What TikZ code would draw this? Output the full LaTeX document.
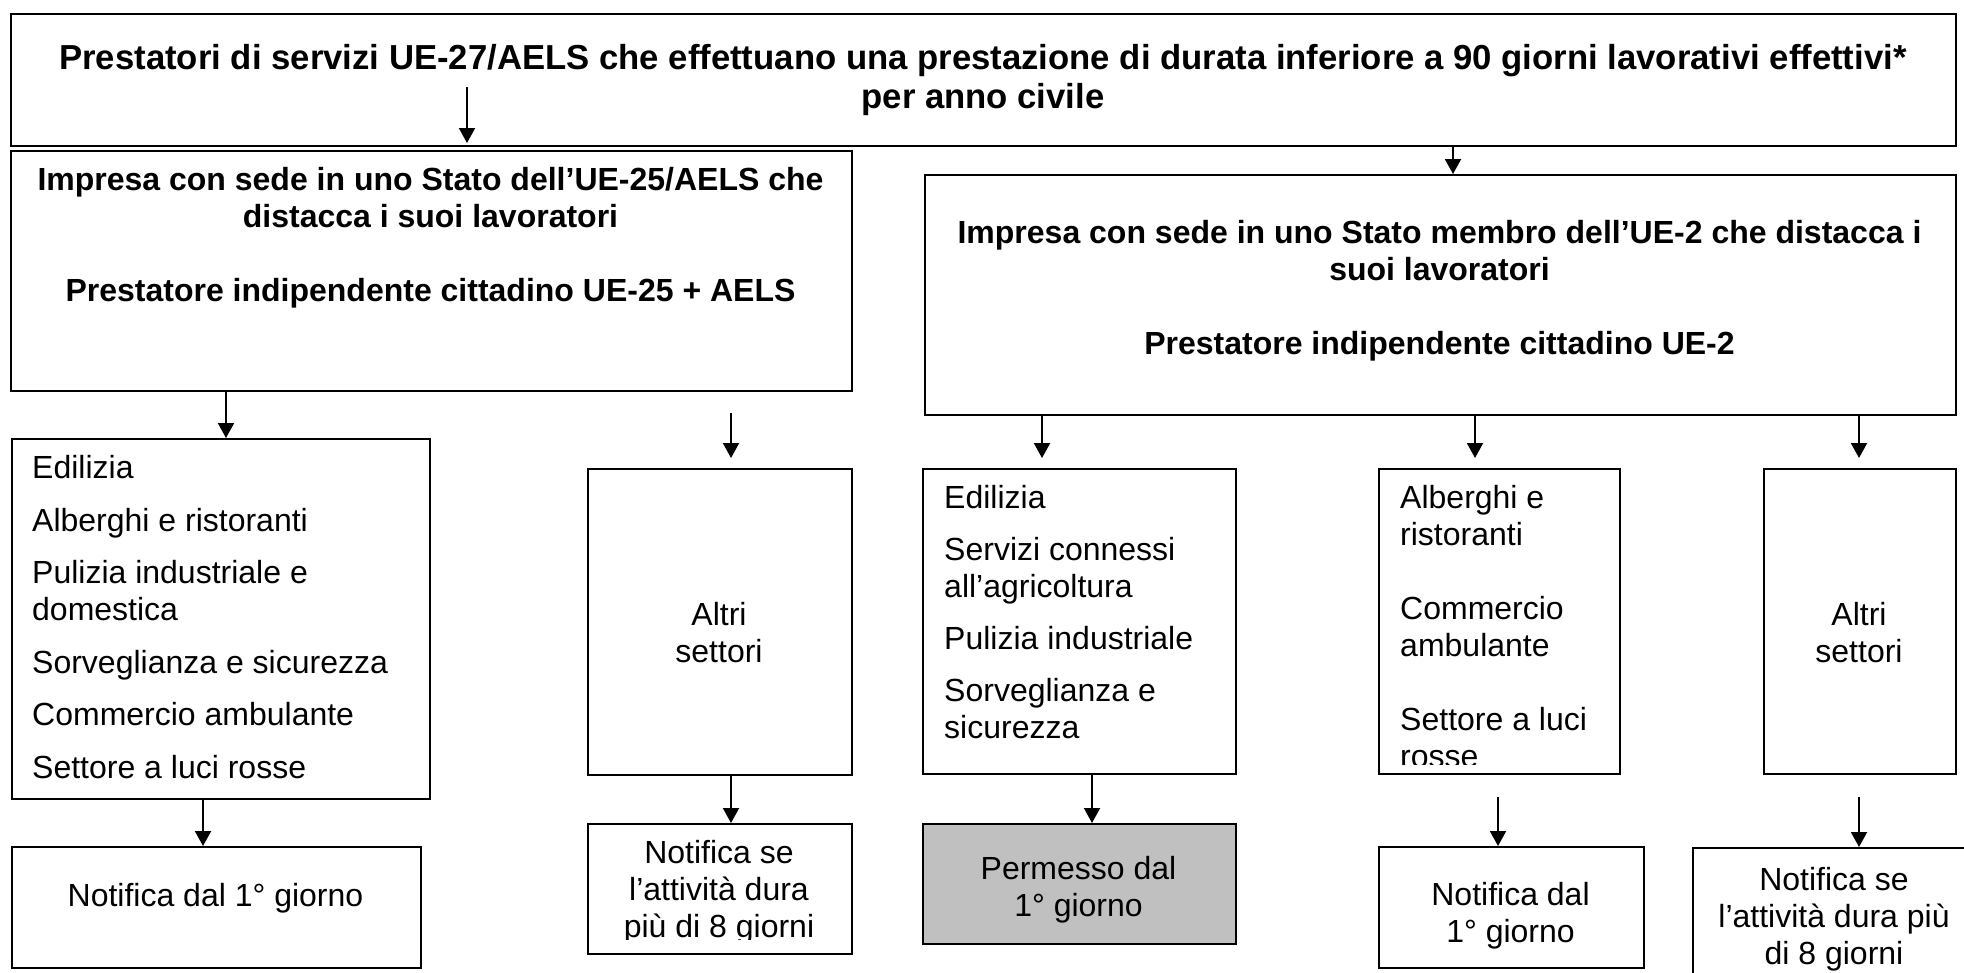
\documentclass[tikz,border=0pt]{standalone}
\usepackage{fontspec}
\setmainfont{Liberation Sans}
\usetikzlibrary{arrows.meta}
\tikzset{
  box/.style={draw=black, line width=2pt, inner sep=0pt, anchor=north west},
  graybox/.style={box, fill=graybg},
  txt/.style={inner sep=0pt, font=\fontsize{32}{37}\selectfont},
  btxt/.style={txt, font=\fontsize{32}{37}\selectfont\bfseries, align=center, anchor=north},
  ttxt/.style={txt, font=\fontsize{34.7}{38.5}\selectfont\bfseries, align=center, anchor=north},
  ltxt/.style={txt, align=left, anchor=north west},
  ctxt/.style={txt, align=center, anchor=north},
  arr/.style={line width=2pt, -{Triangle[length=15pt,width=16pt]}}
}
\definecolor{graybg}{HTML}{C0C0C0}
\begin{document}
\begin{tikzpicture}[x=1pt,y=-1pt]
\clip (0,0) rectangle (1964,972);
\fill[white] (0,0) rectangle (1964,972);
% boxes
\node[box, minimum width=1945pt, minimum height=132pt] (top) at (10,13) {};
\node[box, minimum width=841pt, minimum height=240pt] (imp1) at (10,150) {};
\node[box, minimum width=1031pt, minimum height=240pt] (imp2) at (924,174) {};
\node[box, minimum width=418pt, minimum height=360pt] (list1) at (11,438) {};
\node[box, minimum width=264pt, minimum height=306pt] (altri1) at (587,468) {};
\node[box, minimum width=313pt, minimum height=305pt] (list2) at (922,468) {};
\node[box, minimum width=241pt, minimum height=305pt] (list3) at (1378,468) {};
\node[box, minimum width=192pt, minimum height=305pt] (altri2) at (1763,468) {};
\node[box, minimum width=409pt, minimum height=121pt] (not1) at (11,846) {};
\node[box, minimum width=264pt, minimum height=130pt] (notse1) at (587,823) {};
\node[graybox, minimum width=313pt, minimum height=120pt] (perm) at (922,823) {};
\node[box, minimum width=265pt, minimum height=121pt] (notdal) at (1378,846) {};
\node[box, minimum width=286pt, minimum height=160pt] (notse2) at (1692,847) {};
% texts
\node[ttxt] (topt) at (983,44.5) {Prestatori di servizi UE-27/AELS che effettuano una prestazione di durata inferiore a 90 giorni lavorativi effettivi*\\per anno civile};
\node[btxt] (imp1t) at (430.5,167.5) {Impresa con sede in uno Stato dell’UE-25/AELS che\\distacca i suoi lavoratori\\[37pt]Prestatore indipendente cittadino UE-25 + AELS};
\node[btxt] (imp2t) at (1439.5,220.5) {Impresa con sede in uno Stato membro dell’UE-2 che distacca i\\suoi lavoratori\\[37pt]Prestatore indipendente cittadino UE-2};
\node[ltxt] (list1t) at (32,455.5) {Edilizia\\[15.5pt]Alberghi e ristoranti\\[15.5pt]Pulizia industriale e\\domestica\\[15.5pt]Sorveglianza e sicurezza\\[15.5pt]Commercio ambulante\\[15.5pt]Settore a luci rosse};
\node[ltxt] (list2t) at (944,485.5) {Edilizia\\[15pt]Servizi connessi\\all’agricoltura\\[15pt]Pulizia industriale\\[15pt]Sorveglianza e\\sicurezza};
\begin{scope}
\clip (1378,468) rectangle (1619,764);
\node[ltxt] (list3t) at (1400,485.5) {Alberghi e\\ristoranti\\[37pt]Commercio\\ambulante\\[37pt]Settore a luci\\rosse};
\end{scope}
\node[ctxt] (altri1t) at (719,602.5) {Altri\\settori};
\node[ctxt] (altri2t) at (1859,602.5) {Altri\\settori};
\node[ctxt] (not1t) at (215.5,883.5) {Notifica dal 1° giorno};
\begin{scope}
\clip (587,823) rectangle (851,939);
\node[ctxt] (notse1t) at (719,840) {Notifica se\\l’attività dura\\più di 8 giorni};
\end{scope}
\node[ctxt] (permt) at (1078.5,856.5) {Permesso dal\\1° giorno};
\node[ctxt] (notdalt) at (1510.5,882) {Notifica dal\\1° giorno};
\node[ctxt] (notse2t) at (1834,867.5) {Notifica se\\l’attività dura più\\di 8 giorni};
% arrow x positions / free ends
\coordinate (c1) at (467,87);
\coordinate (c2) at (1453,0);
\coordinate (c3) at (226,0);
\coordinate (c4) at (731,413);
\coordinate (c5) at (1042,0);
\coordinate (c6) at (1475,0);
\coordinate (c7) at (1859,0);
\coordinate (c8) at (203,0);
\coordinate (c9) at (731,0);
\coordinate (c10) at (1092,0);
\coordinate (c11) at (1498,797);
\coordinate (c12) at (1859,797);
% connectors
\draw[arr, shorten >=4pt] (c1) -- (c1 |- top.south);
\draw[arr] (c2 |- top.south) -- (c2 |- imp2.north);
\draw[arr] (c3 |- imp1.south) -- (c3 |- list1.north);
\draw[arr, shorten >=10pt] (c4) -- (c4 |- altri1.north);
\draw[arr, shorten >=10pt] (c5 |- imp2.south) -- (c5 |- list2.north);
\draw[arr, shorten >=10pt] (c6 |- imp2.south) -- (c6 |- list3.north);
\draw[arr, shorten >=10pt] (c7 |- imp2.south) -- (c7 |- altri2.north);
\draw[arr] (c8 |- list1.south) -- (c8 |- not1.north);
\draw[arr] (c9 |- altri1.south) -- (c9 |- notse1.north);
\draw[arr] (c10 |- list2.south) -- (c10 |- perm.north);
\draw[arr] (c11) -- (c11 |- notdal.north);
\draw[arr] (c12) -- (c12 |- notse2.north);
\end{tikzpicture}
\end{document}
